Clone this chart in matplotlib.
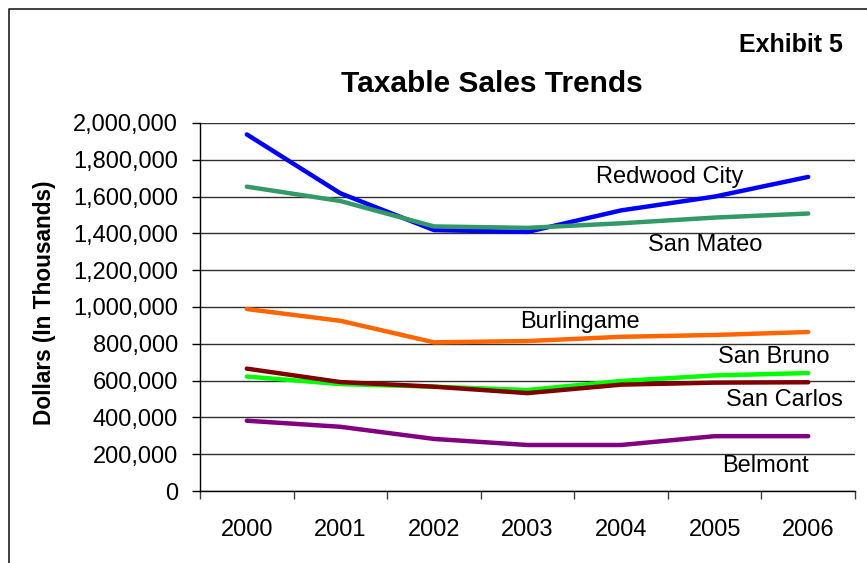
import matplotlib
matplotlib.use("Agg")
import matplotlib.pyplot as plt
from matplotlib.lines import Line2D
from matplotlib.ticker import FuncFormatter, FixedLocator

plt.rcParams['font.family'] = ['Liberation Sans', 'DejaVu Sans']

years = ["2000", "2001", "2002", "2003", "2004", "2005", "2006"]
redwood_city = [1938000, 1618000, 1418000, 1408000, 1525000, 1600000, 1707000]
san_mateo = [1654000, 1576000, 1438000, 1430000, 1455000, 1486000, 1508000]
burlingame = [989000, 925000, 808000, 815000, 838000, 848000, 864000]
san_bruno = [622000, 581000, 567000, 549000, 598000, 628000, 641000]
san_carlos = [665000, 592000, 567000, 532000, 578000, 589000, 591000]
belmont = [382000, 349000, 283000, 250000, 250000, 298000, 298000]

series = [
    ("Redwood City", redwood_city, "#0000FF"),
    ("San Mateo", san_mateo, "#339966"),
    ("Burlingame", burlingame, "#FF6600"),
    ("San Bruno", san_bruno, "#00FF00"),
    ("San Carlos", san_carlos, "#800000"),
    ("Belmont", belmont, "#800080"),
]

W, H = 867, 563
fig = plt.figure(figsize=(W / 100, H / 100), dpi=100)
ax = fig.add_axes([200 / W, (H - 491) / H, (855 - 200) / W, (491 - 123) / H])

x = list(range(len(years)))
for name, vals, col in series:
    ax.plot(x, vals, color=col, lw=3.2, solid_capstyle='round', solid_joinstyle='round', zorder=3)

ax.set_xlim(-0.5, len(years) - 0.5)
ax.set_ylim(0, 2000000)
ax.set_yticks(range(0, 2000001, 200000))
ax.yaxis.set_major_formatter(FuncFormatter(lambda v, p: f"{int(v):,}"))
ax.grid(axis='y', color='#303030', lw=1.0, zorder=1)
ax.set_xticks(x)
ax.set_xticklabels(years)
ax.xaxis.set_minor_locator(FixedLocator([i - 0.5 for i in range(len(years) + 1)]))
ax.tick_params(axis='x', which='major', length=0, pad=20.5, labelsize=17)
ax.tick_params(axis='x', which='minor', length=6, width=1, color='#404040')
ax.tick_params(axis='y', length=6, width=1, pad=10, labelsize=17)
for s in ['top', 'right']:
    ax.spines[s].set_visible(False)
for s in ['left', 'bottom']:
    ax.spines[s].set_color('black')
    ax.spines[s].set_linewidth(1.0)

ax.set_ylabel("Dollars (In Thousands)", fontsize=16.3, fontweight='bold')
ax.yaxis.set_label_coords(-(200 - 56) / 655, (491 - 303) / 368)

fig.text(492 / W, 1 - 84 / H, "Taxable Sales Trends", fontsize=21.5, fontweight='bold', ha='center', va='center')
fig.text(791 / W, 1 - 45 / H, "Exhibit 5", fontsize=18, fontweight='bold', ha='center', va='center')

labels = [
    ("Redwood City", 670, 177),
    ("San Mateo", 705, 245),
    ("Burlingame", 580, 322),
    ("San Bruno", 774, 357),
    ("San Carlos", 784, 400),
    ("Belmont", 765, 466),
]
for txt, px, py in labels:
    fig.text(px / W, 1 - py / H, txt, fontsize=17, ha='center', va='center')

fig.add_artist(Line2D([9 / W, 9 / W, 1], [0, 1 - 9 / H, 1 - 9 / H], transform=fig.transFigure, color='#202020', lw=1.2))

fig.savefig("out.png", dpi=100)
